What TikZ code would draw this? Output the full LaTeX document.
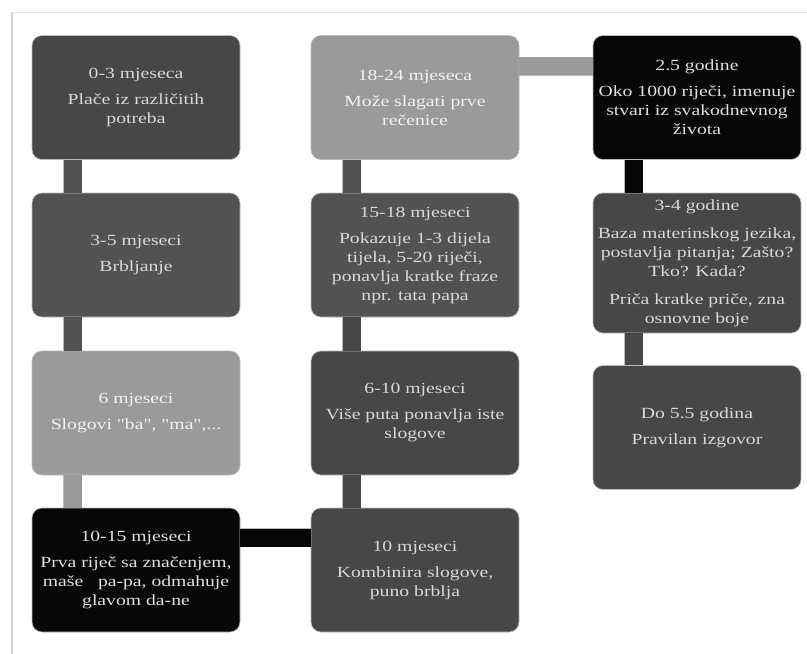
\documentclass[tikz,border=0pt]{standalone}
\usepackage{fontspec}
\setmainfont[FakeStretch=1.27,Ligatures=TeXOff]{Liberation Serif}
\usetikzlibrary{positioning}

\definecolor{darkbox}{HTML}{474747}
\definecolor{midbox}{HTML}{525252}
\definecolor{lightbox}{HTML}{9A9A9A}
\definecolor{blackbox}{HTML}{070707}

\begin{document}
\begin{tikzpicture}[x=1pt,y=-1pt,
  stage/.style={rounded corners=10pt,draw=gray!55,line width=0.6pt,minimum width=208pt,minimum height=124pt,inner sep=0pt,align=center,text=black!15,font=\fontsize{15.5}{19}\selectfont},
  conn/.style={draw=gray!55,line width=0.5pt,double distance=18pt}]
\useasboundingbox (0,0) rectangle (807,654);
\draw[gray!35,line width=1.5pt] (12,654) -- (12,12);
\draw[gray!20,line width=1pt] (12,12) -- (807,12);
% first column, going down
\node[stage,fill=darkbox] (m03) at (136,97.5) {0-3 mjeseca\\[7pt]Plače iz različitih\\potreba};
\node[stage,fill=midbox] (m35) at (136,255) {3-5 mjeseci\\[7pt]Brbljanje};
\node[stage,fill=lightbox,text=black!5] (m6) at (136,413) {6 mjeseci\\[7pt]Slogovi "ba", "ma",...};
\node[stage,fill=blackbox,text=black!12] (m1015) at (136,570) {10-15 mjeseci\\[7pt]Prva riječ sa značenjem,\\maše\ \ \ pa-pa, odmahuje\\glavom da-ne};
% second column, going up
\node[stage,fill=darkbox] (m10) at (415,570) {10 mjeseci\\[7pt]Kombinira slogove,\\puno brblja};
\node[stage,fill=darkbox] (m610) at (415,413) {6-10 mjeseci\\[7pt]Više puta ponavlja iste\\slogove};
\node[stage,fill=midbox] (m1518) at (415,255) {15-18 mjeseci\\[7pt]Pokazuje 1-3 dijela\\tijela, 5-20 riječi,\\ponavlja kratke fraze\\npr. tata papa};
\node[stage,fill=lightbox,text=black!5] (m1824) at (415,97.5) {18-24 mjeseca\\[7pt]Može slagati prve\\rečenice};
% third column, going down
\node[stage,fill=blackbox,text=black!12] (g25) at (697,97.5) {2.5 godine\\[7pt]Oko 1000 riječi, imenuje\\stvari iz svakodnevnog\\života};
\node[stage,fill=darkbox,minimum height=140pt] (g34) at (697,263) {3-4 godine\\[9pt]Baza materinskog jezika,\\postavlja pitanja; Zašto?\\Tko? Kada?\\[9pt]Priča kratke priče, zna\\osnovne boje};
\node[stage,fill=darkbox] (g55) at (697,427.5) {Do 5.5 godina\\[7pt]Pravilan izgovor};
% connectors
\draw[conn,double=midbox] ([xshift=41pt]m03.south west) -- ([xshift=41pt]m35.north west);
\draw[conn,double=midbox] ([xshift=41pt]m35.south west) -- ([xshift=41pt]m6.north west);
\draw[conn,double=lightbox] ([xshift=41pt]m6.south west) -- ([xshift=41pt]m1015.north west);
\draw[conn,double=blackbox] ([yshift=-30pt]m1015.north east) -- ([yshift=-30pt]m10.north west);
\draw[conn,double=darkbox] ([xshift=41pt]m10.north west) -- ([xshift=41pt]m610.south west);
\draw[conn,double=darkbox] ([xshift=41pt]m610.north west) -- ([xshift=41pt]m1518.south west);
\draw[conn,double=midbox] ([xshift=41pt]m1518.north west) -- ([xshift=41pt]m1824.south west);
\draw[conn,double=lightbox] ([yshift=-31pt]m1824.north east) -- ([yshift=-31pt]g25.north west);
\draw[conn,double=blackbox] ([xshift=41pt]g25.south west) -- ([xshift=41pt]g34.north west);
\draw[conn,double=darkbox] ([xshift=41pt]g34.south west) -- ([xshift=41pt]g55.north west);
\end{tikzpicture}
\end{document}
